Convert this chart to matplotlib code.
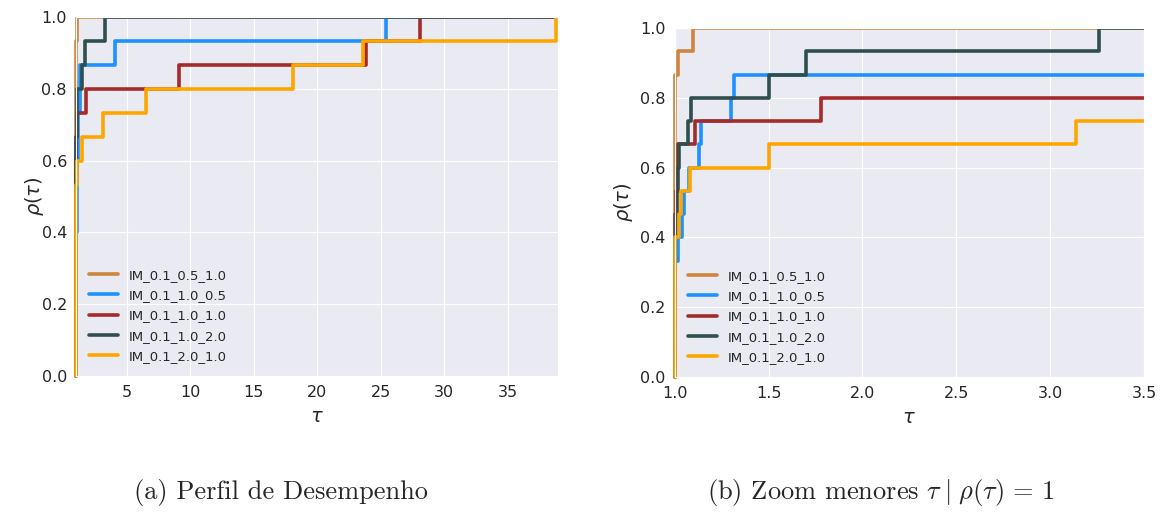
import numpy as np
import matplotlib
matplotlib.use("Agg")
import matplotlib.pyplot as plt
import matplotlib.patches as mpatches
import seaborn as sns

# performance ratios (tau) per solver, 15 problems
labels = ["IM_0.1_0.5_1.0", "IM_0.1_1.0_0.5", "IM_0.1_1.0_1.0", "IM_0.1_1.0_2.0", "IM_0.1_2.0_1.0"]
colors = ["#CD853F", "#1E90FF", "#A52A2A", "#2F4F4F", "#FFA500"]

r_05_10 = [1] * 13 + [1.016, 1.096]
r_10_05 = [1] * 5 + [1.016, 1.04, 1.05, 1.075, 1.13, 1.14, 1.30, 1.315, 4.05, 25.37]
r_10_10 = [1] * 7 + [1.005, 1.01, 1.015, 1.11, 1.78, 9.12, 23.8, 28.07]
r_10_20 = [1] * 6 + [1.005, 1.01, 1.015, 1.025, 1.07, 1.085, 1.50, 1.70, 3.26]
r_20_10 = [1] * 6 + [1.025, 1.035, 1.08, 1.50, 3.14, 6.55, 18.1, 23.56, 38.8]
ratios = [r_05_10, r_10_05, r_10_10, r_10_20, r_20_10]

tau_max = 38.95
left_xticks = [5, 10, 15, 20, 25, 30, 35]
right_xticks = [1.0, 1.5, 2.0, 2.5, 3.0, 3.5]
yticks = [0.0, 0.2, 0.4, 0.6, 0.8, 1.0]

sns.set_style("darkgrid")
plt.rcParams['font.family'] = ['DejaVu Sans']

W, H = 1167, 513
fig = plt.figure(figsize=(W / 100, H / 100), dpi=100)
axL = fig.add_axes([76 / W, (H - 376) / H, (558 - 76) / W, (376 - 17) / H])
axR = fig.add_axes([674.7 / W, (H - 377) / H, (1144 - 674.7) / W, (377 - 28) / H])


def profile(r):
    r = np.sort(np.asarray(r, dtype=float))
    n = len(r)
    x = np.concatenate([[1.0], r, [tau_max]])
    y = np.concatenate([[0.0], np.arange(1, n + 1) / n, [1.0]])
    return x, y


for ax, xlim, xt, fmt, ylpad, wpx in [(axL, (1, tau_max), left_xticks, "{:g}", -3, 558 - 76),
                                      (axR, (1.0, 3.5), right_xticks, "{:.1f}", 4, 1144 - 674.7)]:
    clip = mpatches.Rectangle((-2.2 / wpx, -0.006), 1 + 2.2 / wpx, 1.006,
                              transform=ax.transAxes, fill=False, visible=False)
    ax.add_patch(clip)
    for r, c, lab in zip(ratios, colors, labels):
        x, y = profile(r)
        ln, = ax.step(x, y, where="post", color=c, lw=2.6, label=lab)
        ln.set_clip_path(clip)
    ax.set_xlim(*xlim)
    ax.set_ylim(0, 1)
    ax.set_xticks(xt)
    ax.set_xticklabels([fmt.format(v) for v in xt])
    ax.set_yticks(yticks)
    ax.set_yticklabels(["{:.1f}".format(v) for v in yticks])
    ax.tick_params(labelsize=11.5, colors="#262626", pad=3)
    ax.set_xlabel(r"$\tau$", fontsize=14, labelpad=5)
    ax.set_ylabel(r"$\rho(\tau)$", fontsize=14, labelpad=ylpad)
    ax.legend(loc="lower left", fontsize=9.5, frameon=False,
              handlelength=2.2, labelspacing=0.55, borderaxespad=0.6)

fig.text(281 / W, 1 - 493 / H, "(a) Perfil de Desempenho", ha="center", va="center",
         fontsize=19, family="cmr10")
fig.text(881 / W, 1 - 493 / H, r"(b) Zoom menores $\tau\;|\;\rho(\tau)\,=\,1$", ha="center",
         va="center", fontsize=19, family="cmr10", math_fontfamily="cm")

fig.savefig("out.png", dpi=100)
